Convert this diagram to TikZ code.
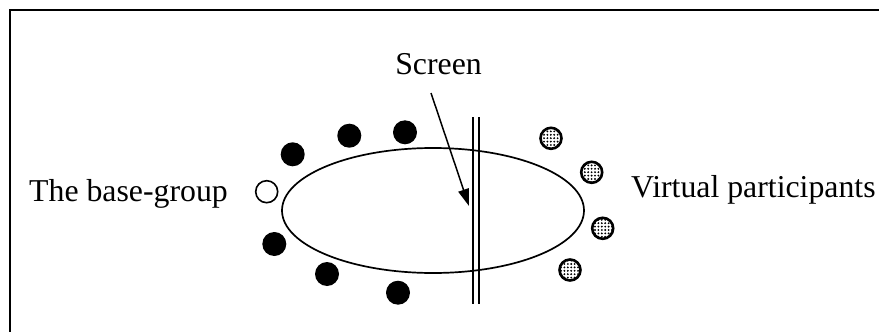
\documentclass[tikz,border=0pt]{standalone}
\usepackage{fontspec}
\setmainfont{Liberation Serif}
\usetikzlibrary{arrows.meta,patterns.meta}
\begin{document}
\begin{tikzpicture}[x=1pt,y=-1pt,
  label text/.style={inner sep=0pt,font=\fontsize{31.8}{36}\selectfont},
  member/.style={circle,fill=black,inner sep=0pt,minimum size=24pt},
  newcomer/.style={circle,draw=black,line width=1.6pt,fill=white,inner sep=0pt,minimum size=22pt},
  remote/.style={circle,draw=black,line width=2.6pt,inner sep=0pt,minimum size=21pt,
    pattern={Dots[distance=3.4pt,radius=1.05pt]}},
  thinline/.style={line width=1.7pt}]
\useasboundingbox (0,0) rectangle (879,332);

% frame (left and top edges)
\draw[line width=2pt] (10,332) -- (10,9.5) -- (879,9.5);

% table
\draw[thinline] (433,210.5) ellipse [x radius=151, y radius=62.5];

% screen
\coordinate (s1t) at (473,117); \coordinate (s1b) at (473,304);
\coordinate (s2t) at (479,117); \coordinate (s2b) at (479,304);
\draw[thinline] (s1t) -- (s1b);
\draw[thinline] (s2t) -- (s2b);

% base group
\node[member] (m1) at (292.7,154.3) {};
\node[member] (m2) at (349.3,135.7) {};
\node[member] (m3) at (405,132.3) {};
\node[newcomer] (m0) at (266.7,191.7) {};
\node[member] (m4) at (274.3,244) {};
\node[member] (m5) at (327,274) {};
\node[member] (m6) at (398,292.7) {};

% virtual participants
\node[remote] (v1) at (551,138.3) {};
\node[remote] (v2) at (591.7,172.3) {};
\node[remote] (v3) at (602.7,228.3) {};
\node[remote] (v4) at (570,270) {};

% labels
\node[label text,anchor=base west] (base) at (29,201) {The base-group};
\node[label text,anchor=base west] (virt) at (631,197) {Virtual participants};
\node[label text,anchor=base east] (scr) at (482,74) {Screen};

% pointer from the caption to the screen
\coordinate (ptrs) at (431,93);
\coordinate (ptre) at (469,206);
\draw[line width=1.5pt,-{Triangle[length=17pt,width=11pt]}] (ptrs) -- (ptre);
\end{tikzpicture}
\end{document}
